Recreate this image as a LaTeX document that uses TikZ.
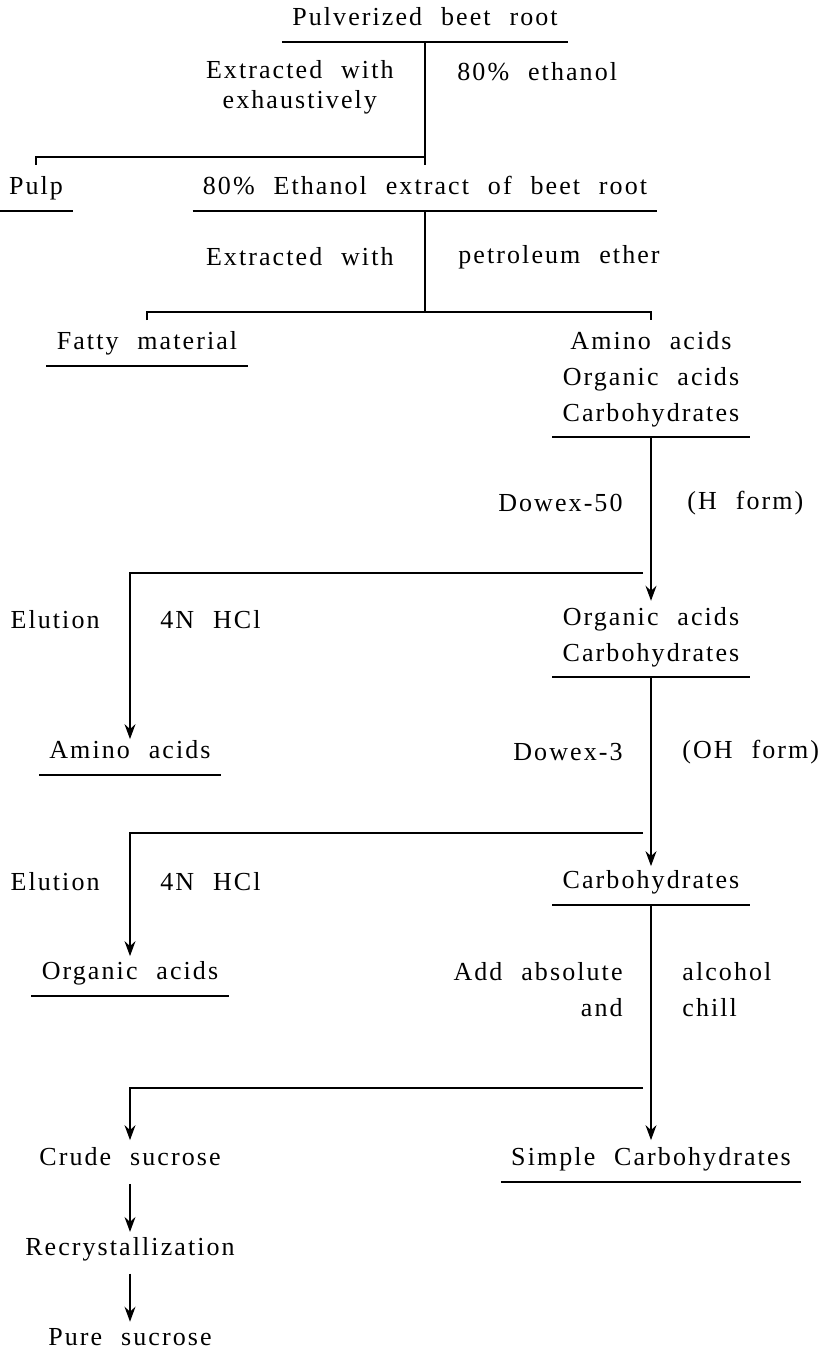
\documentclass[tikz,border=0pt]{standalone}
\usepackage{fontspec}
\setmainfont{Liberation Serif}[LetterSpace=8,WordSpace=2.2]
\usetikzlibrary{arrows.meta,positioning}
\tikzset{
  basic/.style = {font=\fontsize{13}{18}\selectfont, inner sep=0pt},
  stage/.style = {basic, text height=9.5pt, text depth=3pt},
  stack/.style = {basic, align=center},
  notel/.style = {basic, align=left, anchor=west},
  noter/.style = {basic, align=right, anchor=east},
  rule/.style  = {line width=0.9pt},
  flow/.style  = {line width=0.6pt}
}

\begin{document}
\begin{tikzpicture}[
  x=0.5pt, y=-0.5pt,
  node distance=32pt,
  >={Stealth[length=7.5pt,width=5.5pt,inset=2.5pt]}]
\useasboundingbox (0,0) rectangle (826,1359);

% the extraction steps
\node[stage] (root) at (425,19) {Pulverized beet root};
\node[stack, anchor=east, font=\fontsize{13}{15}\selectfont] (ext1) at (394,87) {Extracted with\\exhaustively};
\node[notel] (sol1) at (457,72) {80\% ethanol};
\node[stage] (pulp) at (36,188) {Pulp};
\node[stage] (extr) at (425,188) {80\% Ethanol extract of beet root};
\node[noter] (ext2) at (394,257) {Extracted with};
\node[notel] (sol2) at (458,257) {petroleum ether};
\node[stage] (fat) at (147,343) {Fatty material};

% the right column, through the two resins
\node[stack] (mix) at (651,379) {Amino acids\\Organic acids\\Carbohydrates};
\node[noter] (col1) at (623,503) {Dowex-50};
\node[notel] (form1) at (687,503) {(H form)};
\node[stack] (oc) at (651,637) {Organic acids\\Carbohydrates};
\node[noter] (col2) at (623,752) {Dowex-3};
\node[notel] (form2) at (682,752) {(OH form)};
\node[stage] (carb) at (651,882) {Carbohydrates};
\node[noter] (add1) at (623,990) {Add absolute\\and};
\node[notel] (add2) at (682,990) {alcohol\\chill};
\node[stage] (simp) at (651,1159) {Simple Carbohydrates};

% the left column, eluted fractions
\node[noter] (elu1) at (100,620) {Elution};
\node[notel] (acid1) at (160,620) {4N HCl};
\node[stage] (amino) at (130,752) {Amino acids};
\node[noter] (elu2) at (100,882) {Elution};
\node[notel] (acid2) at (160,882) {4N HCl};
\node[stage] (orga) at (130,973) {Organic acids};
\node[stage] (crude) at (130,1159) {Crude sucrose};
\node[stage, below=of crude] (recr) {Recrystallization};
\node[stage, below=of recr] (pure) {Pure sucrose};

% underlines
\foreach \n in {root,pulp,extr,fat,mix,oc,amino,carb,orga,simp}
  \draw[rule] ([xshift=-5pt,yshift=-5pt]\n.south west) -- ([xshift=5pt,yshift=-5pt]\n.south east);

% branch points
\coordinate (j1) at (425,157);
\coordinate (j2) at (425,312);
\coordinate (j3) at (651,573);
\coordinate (j4) at (651,833);
\coordinate (j5) at (651,1088);

\draw[flow] ([yshift=-5pt]root.south) -- ([yshift=5pt]extr.north);
\draw[flow] (j1) -| ([yshift=5pt]pulp.north);
\draw[flow] ([yshift=-5pt]extr.south) -- (j2);
\draw[flow] ([yshift=-4pt]fat.north |- j2) -- (fat.north |- j2) -- (mix.north |- j2) -- ([yshift=-4pt]mix.north |- j2);

\draw[flow,->] ([yshift=-5pt]mix.south) -- ([yshift=3pt]oc.north);
\draw[flow,->] ([xshift=-4pt]j3) -| (amino.north);
\draw[flow,->] ([yshift=-5pt]oc.south) -- ([yshift=1.5pt]carb.north);
\draw[flow,->] ([xshift=-4pt]j4) -| ([yshift=2pt]orga.north);
\draw[flow,->] ([yshift=-5pt]carb.south) -- ([yshift=3pt]simp.north);
\draw[flow,->] ([xshift=-4pt]j5) -| ([yshift=3pt]crude.north);

\foreach \a/\b in {crude/recr,recr/pure}
  \draw[flow,->,shorten <=6pt,shorten >=2pt] (\a) -- (\b);
\end{tikzpicture}
\end{document}
